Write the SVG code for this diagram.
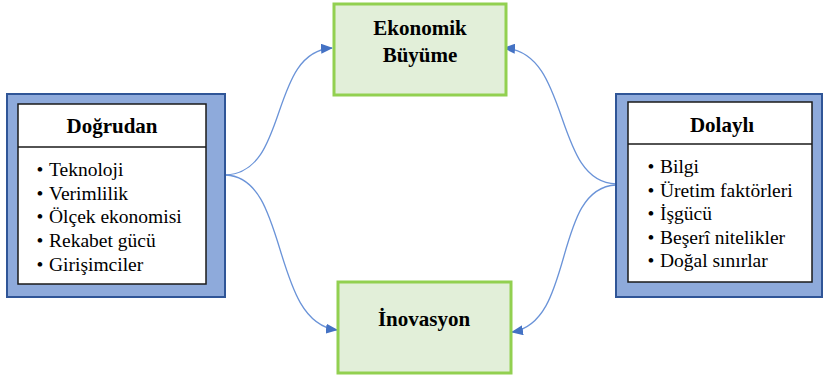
<svg xmlns="http://www.w3.org/2000/svg" width="824" height="379" viewBox="0 0 824 379">
<style>
.outer{fill:#8eaadb;stroke:#2f5597;stroke-width:2}
.inner{fill:#ffffff;stroke:#1a1a1a;stroke-width:1.5}
.sep{stroke:#1a1a1a;stroke-width:1.5}
.green{fill:#e2efd9;stroke:#92d050;stroke-width:3}
.hdr{font-family:'Liberation Serif','Times New Roman',serif;font-weight:bold;font-size:21px;text-anchor:middle;fill:#000}
.item{font-family:'Liberation Serif','Times New Roman',serif;font-size:19.5px;fill:#000}
.bul{font-family:'Liberation Serif','Times New Roman',serif;font-size:19.5px;text-anchor:middle;fill:#000}
.conn{fill:none;stroke:#6a93d8;stroke-width:1.3}
</style>
<defs>
<marker id="ah" viewBox="0 0 12 10" refX="11" refY="5" markerWidth="12" markerHeight="10" markerUnits="userSpaceOnUse" orient="auto">
<path d="M0,0 L12,5 L0,10 z" fill="#4472c4"/>
</marker>
</defs>
<g id="connectors">
<path class="conn" d="M226,175 C290,172 268,52 332,48" marker-end="url(#ah)"/>
<path class="conn" d="M226,175 C290,178 270,322 337,330" marker-end="url(#ah)"/>
<path class="conn" d="M616,184 C552,182 572,52 504,48" marker-end="url(#ah)"/>
<path class="conn" d="M616,185 C552,188 576,322 512,332" marker-end="url(#ah)"/>
</g>
<g id="direct">
<rect class="outer" x="7" y="94" width="218" height="203"/>
<rect class="inner" x="18" y="104" width="188" height="180"/>
<line class="sep" x1="18" y1="147" x2="206" y2="147"/>
<text class="hdr" x="112" y="133">Doğrudan</text>
<text class="bul" x="40" y="176">•</text>
<text class="bul" x="40" y="200">•</text>
<text class="bul" x="40" y="223">•</text>
<text class="bul" x="40" y="247">•</text>
<text class="bul" x="40" y="271">•</text>
<text class="item" x="49" y="176">Teknoloji</text>
<text class="item" x="49" y="200">Verimlilik</text>
<text class="item" x="49" y="223">Ölçek ekonomisi</text>
<text class="item" x="49" y="247">Rekabet gücü</text>
<text class="item" x="49" y="271">Girişimciler</text>
</g>
<g id="indirect">
<rect class="outer" x="616" y="94" width="206" height="203"/>
<rect class="inner" x="628" y="102" width="184" height="180"/>
<line class="sep" x1="628" y1="144" x2="812" y2="144"/>
<text class="hdr" x="722" y="132">Dolaylı</text>
<text class="bul" x="651" y="173">•</text>
<text class="bul" x="651" y="197">•</text>
<text class="bul" x="651" y="220">•</text>
<text class="bul" x="651" y="244">•</text>
<text class="bul" x="651" y="267">•</text>
<text class="item" x="660" y="173">Bilgi</text>
<text class="item" x="660" y="197">Üretim faktörleri</text>
<text class="item" x="660" y="220">İşgücü</text>
<text class="item" x="660" y="244">Beşerî nitelikler</text>
<text class="item" x="660" y="267">Doğal sınırlar</text>
</g>
<g id="growth">
<rect class="green" x="334" y="4" width="172" height="91"/>
<text class="hdr" x="420" y="35">Ekonomik</text>
<text class="hdr" x="420" y="62">Büyüme</text>
</g>
<g id="innovation">
<rect class="green" x="338" y="282" width="173" height="91"/>
<text class="hdr" x="424" y="326">İnovasyon</text>
</g>
</svg>
